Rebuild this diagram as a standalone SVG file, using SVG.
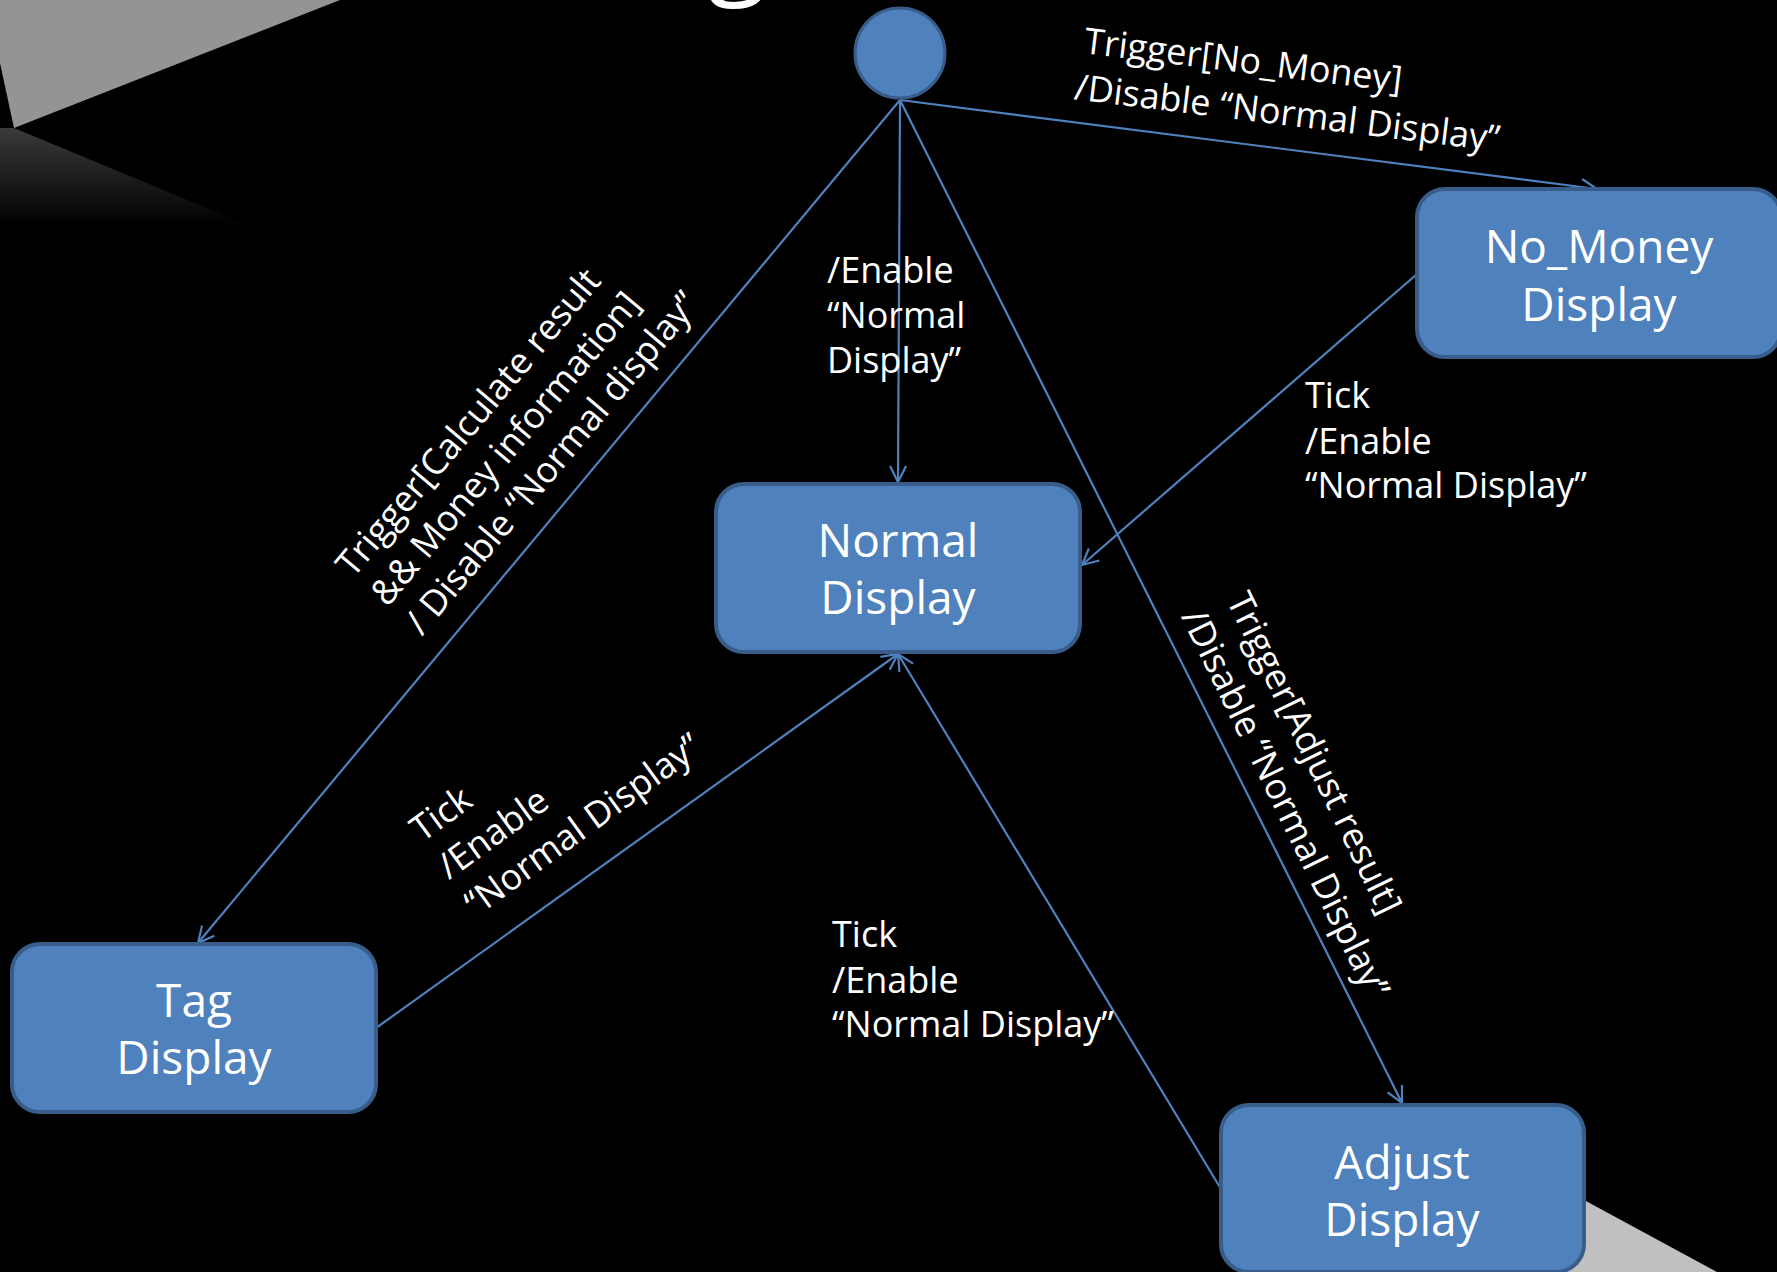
<svg xmlns="http://www.w3.org/2000/svg" width="1777" height="1272" viewBox="0 0 1777 1272">
  <style>
    .bg { fill: #000000; }
    .state { fill: #4f81bd; stroke: #385d8a; stroke-width: 4; }
    .stateText { font-family: "Open Sans", "Noto Sans", sans-serif; font-size: 46px; fill: #ffffff; text-anchor: middle; }
    .edge { fill: none; stroke: #4f81bd; stroke-width: 2.2; }
    .label { font-family: "Open Sans", "Noto Sans", sans-serif; font-size: 36px; fill: #ffffff; }
  </style>
  <defs>
    <marker id="arrow" markerUnits="userSpaceOnUse" markerWidth="22" markerHeight="22" refX="17" refY="9" orient="auto" viewBox="0 0 22 18">
      <path d="M1,1 L17,9 L1,17" fill="none" stroke="#4f81bd" stroke-width="2.2"/>
    </marker>
    <linearGradient id="shade" x1="0" y1="0" x2="0" y2="1">
      <stop offset="0" stop-color="#3a3a3a"/>
      <stop offset="1" stop-color="#000000"/>
    </linearGradient>
  </defs>

  <rect class="bg" x="0" y="0" width="1777" height="1272"/>

  <!-- background decoration -->
  <polygon points="0,0 340,0 14,128 0,63" fill="#949494"/>
  <polygon points="0,128 14,128 250,226 0,226" fill="url(#shade)"/>
  <polygon points="1560,1187 1717,1272 1560,1272" fill="#c0c0c0"/>
  <text x="737" y="-17" font-family="Open Sans, sans-serif" font-size="110" fill="#ffffff" text-anchor="middle">g</text>

  <!-- connectors -->
  <g id="connectors">
    <line class="edge" x1="900" y1="100" x2="1597" y2="189" marker-end="url(#arrow)"/>
    <line class="edge" x1="900" y1="100" x2="898" y2="482" marker-end="url(#arrow)"/>
    <line class="edge" x1="900" y1="100" x2="198" y2="943" marker-end="url(#arrow)"/>
    <line class="edge" x1="900" y1="100" x2="1402" y2="1103" marker-end="url(#arrow)"/>
    <line class="edge" x1="1417" y1="274" x2="1082" y2="565" marker-end="url(#arrow)"/>
    <line class="edge" x1="376" y1="1028" x2="898" y2="654" marker-end="url(#arrow)"/>
    <line class="edge" x1="1221" y1="1189" x2="898" y2="654" marker-end="url(#arrow)"/>

    <text class="label" transform="rotate(7 1083 53)" x="1083" y="53">Trigger[No_Money]<tspan x="1079" dy="47">/Disable “Normal Display”</tspan></text>
    <text class="label" x="827" y="283">/Enable<tspan x="827" dy="45">“Normal</tspan><tspan x="827" dy="45">Display”</tspan></text>
    <text class="label" transform="rotate(-50 353 579)" x="353" y="579">Trigger[Calculate result<tspan x="353" dy="45">&amp;&amp; Money information]</tspan><tspan x="353" dy="45">/ Disable “Normal display”</tspan></text>
    <text class="label" x="1305" y="408">Tick<tspan x="1305" dy="46">/Enable</tspan><tspan x="1305" dy="44">“Normal Display”</tspan></text>
    <text class="label" transform="rotate(64 1226 600)" x="1226" y="600">Trigger[Adjust result]<tspan x="1221" dy="48">/Disable “Normal Display”</tspan></text>
    <text class="label" x="832" y="947">Tick<tspan x="832" dy="46">/Enable</tspan><tspan x="832" dy="44">“Normal Display”</tspan></text>
    <text class="label" transform="rotate(-36 422 843)" x="422" y="843">Tick<tspan x="422" dy="46">/Enable</tspan><tspan x="422" dy="46">“Normal Display”</tspan></text>
  </g>

  <!-- nodes -->
  <g id="initial">
    <circle class="state" cx="900" cy="53" r="45" style="stroke-width:3"/>
  </g>
  <g id="no-money-display">
    <rect class="state" x="1417" y="189" width="364" height="168" rx="28" ry="28"/>
    <text class="stateText" x="1599" y="263">No_Money<tspan x="1599" dy="58">Display</tspan></text>
  </g>
  <g id="normal-display">
    <rect class="state" x="716" y="484" width="364" height="168" rx="28" ry="28"/>
    <text class="stateText" x="898" y="557">Normal<tspan x="898" dy="57">Display</tspan></text>
  </g>
  <g id="tag-display">
    <rect class="state" x="12" y="944" width="364" height="168" rx="28" ry="28"/>
    <text class="stateText" x="194" y="1017">Tag<tspan x="194" dy="57">Display</tspan></text>
  </g>
  <g id="adjust-display">
    <rect class="state" x="1221" y="1105" width="363" height="167" rx="28" ry="28"/>
    <text class="stateText" x="1402" y="1179">Adjust<tspan x="1402" dy="57">Display</tspan></text>
  </g>
</svg>
